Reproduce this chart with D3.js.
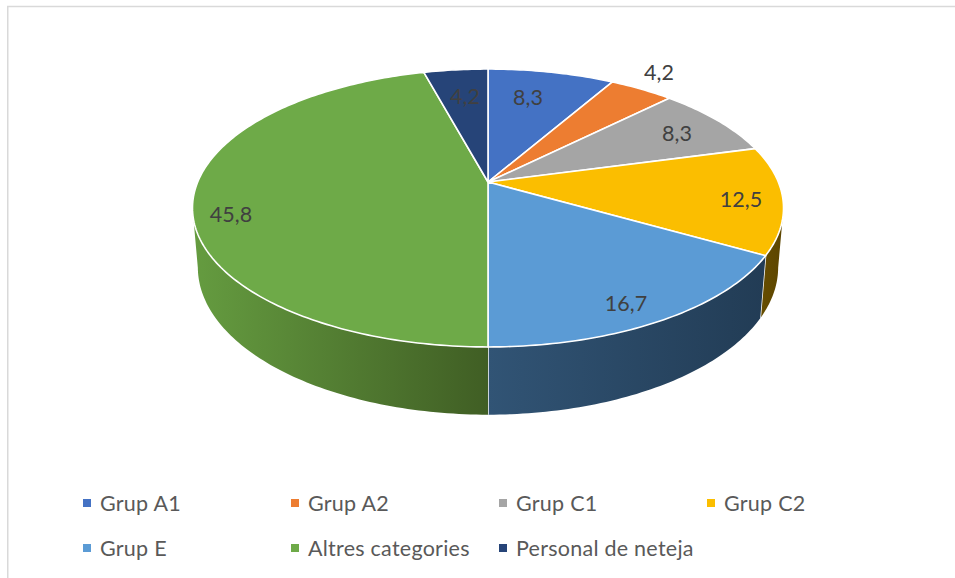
<!DOCTYPE html>
<html>
<head>
<meta charset="utf-8">
<script src="https://cdn.jsdelivr.net/npm/d3@7"></script>
<style>
  html, body { margin: 0; padding: 0; background: #fff; }
  svg { display: block; font-family: Lato, "Open Sans", sans-serif; }
</style>
</head>
<body>
<div id="chart"></div>
<script>
// Data
var categories = ["Grup A1", "Grup A2", "Grup C1", "Grup C2", "Grup E", "Altres categories", "Personal de neteja"];
var values = [8.3, 4.2, 8.3, 12.5, 16.7, 45.8, 4.2];
var valueLabels = ["8,3", "4,2", "8,3", "12,5", "16,7", "45,8", "4,2"];
var colors = ["#4472c4", "#ed7d31", "#a5a5a5", "#fbbe00", "#5b9bd5", "#6eaa48", "#264478"];

// Side wall shading, left to right: [light, dark] per slice that shows a wall
var wallShades = { 3: ["#664d00", "#5c4500"], 4: ["#315475", "#223c55"], 5: ["#659c40", "#405e24"] };
// Label anchors (centre of the text), placed by hand like the original
var labelXY = [[528, 97], [659, 72], [677, 133], [741, 199], [626, 303], [231, 214], [465, 96]];

var width = 955, height = 578;
var cx = 488, cy = 182;          // apex of the pie on screen
// Perspective projection of the unit disc, fitted to the rim
var K = 290.3, A = 134.1, C = -0.187;
var WALL_W = 0.0178, WALL_Y = 59.2;
// angles where the rim turns away from the viewer
var SIL_RIGHT = Math.acos(C), SIL_LEFT = 2 * Math.PI - SIL_RIGHT;

function project(angle, r, low) {
    var u = r * Math.sin(angle), v = -r * Math.cos(angle);
    var w = 1 + C * v + (low ? WALL_W : 0);
    return [cx + K * u / w, cy + (A * v + (low ? WALL_Y : 0)) / w];
}

var svg = d3.select("#chart").append("svg").attr("width", width).attr("height", height);
var defs = svg.append("defs");
var line = d3.line();

// chart frame: only the left and top edges are inside the picture
svg.append("path").attr("d", line([[7.75, height], [7.75, 6.5], [width, 6.5]]))
    .attr("fill", "none").attr("stroke", "#d9d9d9").attr("stroke-width", 1.5);

var arcs = d3.pie().value(function (d) { return d; }).sort(null)(values);

function rim(a0, a1, low) {
    var n = Math.max(2, Math.ceil((a1 - a0) * 60));
    var t = d3.scaleLinear().domain([0, n]).range([a0, a1]);
    return d3.range(n + 1).map(function (i) { return project(t(i), 1, low); });
}

// walls first, only the slices that face the viewer
var walls = svg.append("g");
arcs.forEach(function (d, i) {
    var shade = wallShades[i];
    if (!shade) return;
    var id = "wall" + i;
    var a0 = Math.max(d.startAngle, SIL_RIGHT), a1 = Math.min(d.endAngle, SIL_LEFT);
    var top = rim(a0, a1, false), low = rim(a0, a1, true);
    var xs = top.concat(low).map(function (p) { return p[0]; });
    var grad = defs.append("linearGradient").attr("id", id).attr("gradientUnits", "userSpaceOnUse")
        .attr("x1", d3.min(xs)).attr("x2", d3.max(xs)).attr("y1", 0).attr("y2", 0);
    grad.append("stop").attr("offset", 0).attr("stop-color", shade[0]);
    grad.append("stop").attr("offset", 1).attr("stop-color", shade[1]);
    walls.append("path")
        .attr("d", line(top.concat(low.slice().reverse())) + "Z")
        .attr("fill", "url(#" + id + ")");
    // white seam where two walls meet
    if (d.endAngle < SIL_LEFT) {
        walls.append("path")
            .attr("d", line([project(d.endAngle, 1, false), project(d.endAngle, 1, true)]))
            .attr("stroke", "#fff").attr("stroke-width", 1.5);
    }
});

// top face
svg.append("g").selectAll("path").data(arcs).enter().append("path")
    .attr("d", function (d) { return line([[cx, cy]].concat(rim(d.startAngle, d.endAngle, false))) + "Z"; })
    .attr("fill", function (d, i) { return colors[i]; })
    .attr("stroke", "#fff").attr("stroke-width", 1.6).attr("stroke-linejoin", "round");

// value labels
svg.append("g").selectAll("text").data(valueLabels).enter().append("text")
    .attr("x", function (d, i) { return labelXY[i][0]; })
    .attr("y", function (d, i) { return labelXY[i][1]; })
    .attr("dy", "0.35em").attr("text-anchor", "middle")
    .style("font-size", "21.5px").style("fill", "#404040")
    .text(function (d) { return d; });

// legend, four to a row
var legendX = d3.scaleLinear().domain([0, 3]).range([83, 707]);
var legendY = d3.scaleLinear().domain([0, 1]).range([503, 548]);
var item = svg.append("g").selectAll("g").data(categories).enter().append("g")
    .attr("transform", function (d, i) { return "translate(" + legendX(i % 4) + "," + legendY(Math.floor(i / 4)) + ")"; });
item.append("rect").attr("y", -4).attr("width", 8).attr("height", 8)
    .attr("fill", function (d, i) { return colors[i]; });
item.append("text").attr("x", 17).attr("dy", "0.35em")
    .style("font-size", "21.5px").style("letter-spacing", "0.25px").style("fill", "#595959")
    .text(function (d) { return d; });
</script>
</body>
</html>
